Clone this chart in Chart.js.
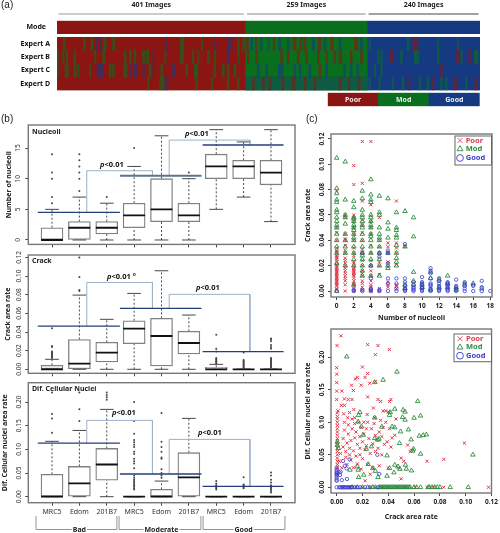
<!DOCTYPE html>
<html>
<head>
<meta charset="utf-8">
<style>
  html, body { margin: 0; padding: 0; background: #fff; }
  canvas { position: absolute; left: 0; top: 0; filter: blur(0.35px); }
</style>
<script src="https://cdn.jsdelivr.net/npm/chart.js@4"></script>
</head>
<body>
<script>
// (a) heat map
var groupCounts = [401, 259, 240];
var groupLabels = ['401 Images', '259 Images', '240 Images'];
var expertRows = ['Expert A', 'Expert B', 'Expert C', 'Expert D'];
var classNames = ['Poor', 'Mod', 'Good'];
// stripes: [first image, last image, class] 0 poor, 1 mod, 2 good, 3 mixed
var stripesA = [[13,17,1],[56,60,1],[72,76,1],[84,87,2],[91,94,2],[99,105,1],[118,123,1],[231,235,2],[262,270,1],[307,310,1],[335,337,2],[364,372,2],[384,388,1],[395,400,1],
  [403,407,0],[412,416,2],[422,425,0],[432,436,2],[448,452,3],[460,463,0],[472,476,2],[490,494,2],[502,509,0],[517,521,0],[525,530,0],[543,548,2],[556,561,0],[568,572,2],[582,587,0],[600,604,2],[633,640,0],[645,650,2],[664,667,1],[745,749,1],[757,768,0],[810,812,1],[852,854,1]];
var stripesB = [[0,3,1],[12,15,1],[20,23,1],[36,40,1],[80,83,1],[97,102,1],[143,147,1],[154,158,1],[164,168,1],[182,187,1],[190,195,1],[204,206,2],[229,232,1],[262,269,1],[288,291,1],[300,302,1],[320,324,1],[335,338,1],[362,366,2],[385,388,1],
  [405,409,0],[423,427,0],[476,480,0],[490,494,0],[511,515,0],[529,533,0],[554,558,0],[572,576,0],[589,593,0],[600,606,0],[624,628,0],[646,650,0],[682,685,1],[689,692,1],[708,715,0],[731,735,1],[760,770,1],[809,813,1],[850,857,0],[859,862,1],[876,880,0],[888,896,1]];
var stripesC = [[0,3,1],[17,24,1],[36,41,1],[44,47,1],[69,72,1],[85,92,2],[92,98,2],[111,115,1],[118,122,1],[142,149,1],[154,157,2],[163,170,2],[183,186,2],[196,200,1],[204,206,2],[221,225,1],[245,250,2],[274,278,1],[292,296,1],[294,300,1],[334,338,1],[352,356,1],[362,366,1],[377,381,1],
  [426,430,2],[444,448,2],[471,481,2],[504,508,2],[515,519,2],[536,540,2],[557,561,0],[572,576,2],[589,593,1],[610,614,2],[624,628,2],[638,642,2],[675,678,1],[689,692,1],[816,820,0]];
var stripesD = [[193,196,1],[218,228,1],[230,236,2],[295,299,1],[328,331,1],[362,366,1],[384,388,1],[401,660,3],[416,420,0],[437,441,0],[451,455,0],[479,483,0],[500,507,0],[526,530,0],[547,551,0],
  [600,604,0],[620,623,0],[640,645,0],[664,667,1],[685,688,1],[713,716,1],[734,738,1],[748,751,0],[770,774,1],[787,791,1],[798,802,0],[816,820,1],[826,830,1],[843,850,0],[869,873,1],[889,894,0]];

// (b) box plots: [low whisker, q1, median, q3, high whisker]
var boxNames = ['MRC5', 'Edom', '201B7', 'MRC5', 'Edom', '201B7', 'MRC5', 'Edom', '201B7'];
var groupNames = ['Bad', 'Moderate', 'Good'];
var nucleoliStats = [[0,0,0,2,5],[0,0,2,3,7],[0,1,2,3,6],[0,2,4,6,12],[0,3,5,10,17],[0,3,4,6,10],[5,10,12,14,18],[7,10,12,13,16],[3,9,11,13,18]];
var nucleoliOutliers = [[6,7,10,11,14],[8,10,11,12,13,14],[7],[15],[],[11],[],[],[]];
var nucleoliMeans = [4.5, 10.5, 15.5];
var nucleoliBrackets = [11.3, 16.3];
var crackStats = [[0,0,0,0.0043,0.0107],[0,0,0.006,0.032,0.0796],[0,0.0079,0.0179,0.0289,0.0536],[0,0.0275,0.0436,0.0521,0.0814],[0,0.0036,0.0357,0.0546,0.1057],[0,0.0164,0.0282,0.0407,0.0582],[0,0,0,0.002,0.0053],[0,0,0,0,0],[0,0,0,0,0]];
var crackOutliers = [[0.012,0.013,0.014,0.015,0.016,0.017,0.018,0.019,0.024,0.025,0.044],[0.084,0.085,0.099,0.12],[],[],[],[],[0.006,0.007,0.008,0.009,0.01,0.011,0.012,0.019,0.022,0.037],[0.001,0.002,0.003,0.004,0.005,0.006,0.007,0.008,0.009,0.01,0.018],[0.002,0.003,0.004,0.005,0.006,0.007,0.008,0.009,0.01,0.011,0.012,0.022,0.024,0.026,0.03,0.032,0.033]];
var crackMeans = [0.0464, 0.0654, 0.0189];
var crackBrackets = [0.0932, 0.0804];
var cellStats = [[0,0,0,0.0472,0.117],[0,0,0.028,0.064,0.14],[0,0.035,0.068,0.102,0.1845],[0,0,0,0,0],[0,0,0,0.0155,0.033],[0,0,0.041,0.093,0.1655],[0,0,0,0,0],[0,0,0,0,0],[0,0,0,0,0]];
var cellOutliers = [[0.135,0.165,0.175,0.22],[0.16,0.185,0.22],[0.205,0.21,0.215,0.22],[0.015,0.018,0.021,0.024,0.027,0.03,0.033,0.036,0.04,0.045,0.06,0.07,0.075,0.08,0.09,0.095,0.105,0.11,0.115,0.12,0.133,0.16,0.2],[0.04,0.045,0.05,0.058,0.08,0.083,0.095,0.105,0.116,0.177],[],[0.015,0.018,0.02,0.022,0.024,0.028,0.033],[0.018,0.02,0.022,0.024,0.026,0.041],[0.009,0.012,0.015,0.018,0.02,0.022,0.024,0.03,0.036,0.045,0.051]];
var cellMeans = [0.1134, 0.0479, 0.0218];
var cellBrackets = [0.1613, 0.1211];
var meanSpans = [[0.48,3.48],[3.48,6.46],[6.5,9.46]];
var bracketSpans = [[2.27,4.67],[5.28,8.23]];
var nucleoliTicks = [0, 5, 10, 15];
var crackTicks = [0, 0.02, 0.04, 0.06, 0.08, 0.1, 0.12];
var cellTicks = [0, 0.05, 0.1, 0.15, 0.2];

// (c) upper scatter: crack area rate listed by number of nucleoli (index = nucleoli)
var poorCrackByNucleoli = [
  [0.001,0.002,0.004,0.005,0.006,0.007,0.008,0.009,0.01,0.011,0.012,0.013,0.014,0.015,0.016,0.017,0.018,0.019,0.02,0.021,0.023,0.025,0.026,0.027,0.028,0.03,0.031,0.032,0.034,0.04,0.046,0.05,0.079],
  [0,0.005,0.008,0.01,0.012,0.014,0.016,0.018,0.02,0.022,0.024,0.026,0.03,0.032,0.036,0.04,0.041,0.045,0.058,0.06],
  [0,0.002,0.004,0.005,0.006,0.008,0.01,0.012,0.013,0.014,0.015,0.016,0.017,0.018,0.02,0.022,0.023,0.028,0.03,0.034,0.04,0.045,0.05,0.055,0.058,0.06,0.084,0.099],
  [0.001,0.003,0.006,0.008,0.012,0.014,0.016,0.02,0.024,0.03,0.033,0.04,0.046,0.052,0.056,0.071,0.085,0.118],
  [0,0.001,0.003,0.005,0.008,0.012,0.016,0.02,0.024,0.03,0.036,0.045,0.05,0.055,0.068,0.118],
  [0,0.002,0.013,0.02,0.023,0.03,0.035,0.04,0.058],
  [0.003,0.005,0.007,0.019,0.023,0.03,0.035,0.038],
  [0.002,0.004,0.005,0.021,0.03,0.034,0.038,0.071],
  [0.035]
];
var modCrackByNucleoli = [
  [0,0.022,0.03,0.035,0.04,0.045,0.05,0.052,0.055,0.058,0.062,0.064,0.07,0.072,0.077,0.081,0.105],
  [0.02,0.03,0.035,0.04,0.045,0.053,0.058,0.06,0.072,0.102],
  [0.005,0.02,0.025,0.03,0.035,0.04,0.042,0.045,0.048,0.05,0.052,0.055,0.057,0.058,0.066,0.071],
  [0.012,0.016,0.02,0.025,0.028,0.03,0.035,0.04,0.045,0.05,0.052,0.055,0.058,0.06,0.064,0.073,0.079],
  [0.012,0.02,0.025,0.03,0.035,0.04,0.043,0.045,0.05,0.052,0.055,0.058,0.06,0.07,0.072,0.076,0.088],
  [0.012,0.02,0.025,0.03,0.035,0.04,0.042,0.045,0.05,0.06,0.062,0.075],
  [0.018,0.02,0.03,0.042,0.049,0.054,0.073],
  [0.02,0.023,0.026,0.03,0.036,0.042,0.044,0.048,0.05,0.062],
  [0.002,0.005,0.035,0.063],
  [0.005,0.008,0.015,0.043,0.058],
  [0.003,0.005],
  [0.001,0.01,0.015],
  [0.003,0.009],
  [0.003,0.006,0.012],
  [0.001,0.003],
  [0.005],
  [0.006],
  [0.002]
];
var goodCrackByNucleoli = [
  [0],[],[0,0.001],[0,0.001,0.03],[0,0.001,0.002,0.01,0.02],[0,0.001,0.027,0.03],[0,0.006,0.01,0.022,0.03,0.032],[0,0.002,0.006,0.01],
  [0,0.001,0.002,0.004,0.007,0.01,0.037],[0,0.001,0.002,0.003,0.005,0.007],[0,0.001,0.002,0.003,0.005,0.006,0.007,0.011],
  [0,0.001,0.002,0.004,0.005,0.006,0.01,0.014,0.016,0.018],[0,0.001,0.002,0.004,0.006,0.008,0.01],[0,0.001,0.002,0.004,0.005,0.006,0.007],
  [0,0.001,0.002,0.004,0.009],[0,0.002,0.004,0.006,0.007],[0,0.004,0.005],[0,0.003,0.008],[0]
];
var nucleoliAxisTicks = [0, 2, 4, 6, 8, 10, 12, 14, 16, 18];

// (c) lower scatter: [crack area rate, dif. cellular nuclei area rate]
var poorCrackCell = [[0.0033,0.233],[0.0003,0.218],[0.024,0.2195],[0.032,0.218],[0.0408,0.212],[0.03,0.204],[0,0.184],[0.02,0.185],[0,0.174],[0.024,0.175],[0.022,0.169],[0.016,0.169],[0.0144,0.1667],[0,0.161],[0.0115,0.157],[0.019,0.157],[0.0256,0.16],[0.03,0.1625],[0,0.148],[0.004,0.148],[0.013,0.149],[0.024,0.139],[0,0.135],[0.009,0.135],[0.012,0.135],[0.006,0.136],[0.032,0.135],[0.034,0.132],[0.041,0.132],[0.042,0.135],[0.0036,0.126],[0.006,0.126],[0.0133,0.1195],[0.0285,0.122],[0.001,0.1175],[0.0005,0.1144],[0.0054,0.113],[0.01,0.115],[0.0236,0.112],[0.036,0.1175],[0.038,0.1175],[0.041,0.115],[0.0005,0.109],[0.0085,0.107],[0.014,0.107],[0.0295,0.107],
  [0.0005,0.02],[0.0005,0.03],[0.0005,0.035],[0.0005,0.04],[0.0005,0.045],[0.0005,0.05],[0.0005,0.055],[0.0005,0.06],[0.0005,0.065],[0.0005,0.07],[0.0005,0.075],[0.0005,0.08],[0.0005,0.085],[0.0005,0.09],[0.0005,0.095],[0.0005,0.1],[0.0005,0.105],
  [0.002,0.04],[0.003,0.052],[0.004,0.03],[0.005,0.062],[0.005,0.075],[0.006,0.088],[0.006,0.1],[0.007,0.046],[0.007,0.055],[0.008,0.035],[0.008,0.068],[0.009,0.082],[0.009,0.096],[0.01,0.05],[0.01,0.06],[0.011,0.042],[0.011,0.072],[0.012,0.09],[0.012,0.105],[0.013,0.03],[0.013,0.056],[0.014,0.076],[0.014,0.098],[0.015,0.048],[0.015,0.085],[0.016,0.036],[0.016,0.066],[0.017,0.1],[0.018,0.05],[0.018,0.06],[0.018,0.078],[0.019,0.028],[0.019,0.092],[0.02,0.044],[0.02,0.07],[0.021,0.082],[0.021,0.1],[0.022,0.058],[0.022,0.01],[0.023,0.09],[0.023,0.064],[0.024,0.035],[0.024,0.1],[0.025,0.075],[0.026,0.052],[0.026,0.02],[0.027,0.09],[0.028,0.067],[0.028,0.03],[0.029,0.098],[0.03,0.08],[0.03,0.055],[0.031,0.074],[0.032,0.06],[0.033,0.033],[0.033,0.085],[0.034,0.103],[0.035,0.05],[0.035,0.078],[0.036,0.092],[0.037,0.066],[0.038,0.1],[0.039,0.07],[0.04,0.116],[0.04,0.03],[0.041,0.09],[0.042,0.062],[0.043,0.076],[0.045,0.08],[0.046,0.105],[0.048,0.03],[0.05,0.013],[0.05,0.045],[0.052,0.04],[0.055,0.065],[0.057,0.055],[0.058,0.057],[0.07,0.04],[0.083,0.043],[0.099,0.068],
  [0.005,0],[0.01,0],[0.015,0],[0.02,0],[0.026,0],[0.03,0],[0.036,0],[0.04,0],[0.047,0],[0.053,0],[0.061,0],[0.07,0],[0.075,0],[0.083,0],[0.1177,0]];
var modCrackCell = [[0.0078,0.201],[0.036,0.165],[0.0467,0.1775],[0.0295,0.1615],[0.0628,0.1323],[0.045,0.1205],[0.0515,0.119],[0.053,0.116],[0.065,0.11],[0.051,0.1077],[0.053,0.1036],[0.06,0.1067],[0.0556,0.0887],[0.043,0.0933],[0.045,0.092],[0.035,0.093],[0.0495,0.0856],[0.064,0.079],[0.067,0.08],[0.0695,0.081],[0.0577,0.0733],[0.0487,0.0677],[0.0595,0.059],[0.059,0.056],[0.065,0.0513],[0.1056,0.05],[0.039,0.0487],[0.018,0.1154],[0.017,0.111],[0.0167,0.101],[0.0192,0.0933],[0.0205,0.0805],[0.023,0.059],[0.027,0.0626],[0.0295,0.0754],[0.032,0.0728],[0.0328,0.0744],[0.0295,0.107],[0.0415,0.1154],[0.041,0.111],[0.0244,0.0354],[0.028,0.0292],[0.03,0.025],[0.032,0.0154],[0.039,0.0174],[0.021,0.019],[0.017,0.0154],[0.0167,0.0267],[0.016,0.0318],[0.041,0.0292],[0.045,0.0344],[0.0475,0.0318],[0.049,0.028],[0.054,0.0282],[0.058,0.0256],[0.0444,0.0226],[0.0533,0.0344],[0.0103,0.0267],[0.0013,0.06],[0.0005,0.07],[0.0005,0.065],
  [0.012,0],[0.016,0],[0.02,0],[0.024,0],[0.028,0],[0.03,0],[0.033,0],[0.034,0],[0.035,0],[0.036,0],[0.037,0],[0.038,0],[0.039,0],[0.04,0],[0.041,0],[0.042,0],[0.043,0],[0.044,0],[0.045,0],[0.046,0],[0.047,0],[0.048,0],[0.049,0],[0.05,0],[0.051,0],[0.052,0],[0.053,0],[0.054,0],[0.055,0],[0.056,0],[0.057,0],[0.06,0],[0.062,0],[0.065,0],[0.071,0],[0.072,0],[0.074,0],[0.076,0],[0.078,0],[0.08,0],[0.088,0],[0.102,0]];
var goodCrackCell = [[0,0.01],[0,0.012],[0,0.015],[0,0.018],[0,0.02],[0,0.022],[0,0.024],[0,0.027],[0,0.03],[0.004,0.011],[0.008,0.0128],[0.002,0.023],[0.005,0.0405],[0.01,0.043],[0.0064,0.033],[0.0077,0.029],[0.003,0.024],[0.0315,0.05],[0.033,0.0205],[0.0026,0.019],
  [0,0],[0.002,0],[0.003,0],[0.004,0],[0.005,0],[0.006,0],[0.007,0],[0.008,0],[0.009,0],[0.01,0],[0.011,0],[0.012,0],[0.014,0],[0.016,0],[0.018,0],[0.022,0],[0.026,0],[0.032,0]];
var crackAxisTicks = [0, 0.02, 0.04, 0.06, 0.08, 0.1, 0.12];
var cellAxisTicks = [0, 0.05, 0.1, 0.15, 0.2];

var heatColors = ['#8a1512', '#0a6e1f', '#163a82', '#0e5a42'];
var scatterColors = ['#e3364a', '#2d8c40', '#3a3ad6'];
var frameColor = '#777';
var boldFont = '"Noto Sans", sans-serif';

Chart.defaults.animation = false;
Chart.defaults.font.family = boldFont;
Chart.defaults.plugins.legend.display = false;
Chart.defaults.plugins.tooltip.enabled = false;

function place(config) {
  var canvas = document.createElement('canvas');
  canvas.width = 500;
  canvas.height = 533;
  document.body.appendChild(canvas);
  config.options.responsive = false;
  return new Chart(canvas.getContext('2d'), config);
}

// pin the plot area: r = {l, t, r, b}, yw/xh = room kept for the axes
function pads(r, yw, xh) {
  return { left: r.l - yw, top: r.t, right: 500 - r.r, bottom: 533 - r.b - xh };
}
function fixW(w) { return function(s) { s.width = w; }; }
function fixH(h) { return function(s) { s.height = h; }; }
function setTicks(list) { return function(s) { s.ticks = list.map(function(v) { return { value: v }; }); }; }

var framePlugin = {
  id: 'frame',
  afterDatasetsDraw: function(chart) {
    var a = chart.chartArea, ctx = chart.ctx;
    ctx.save();
    ctx.strokeStyle = frameColor;
    ctx.lineWidth = 1.4;
    ctx.strokeRect(a.left, a.top, a.right - a.left, a.bottom - a.top);
    ctx.restore();
  }
};

function notesPlugin(notes) {
  return {
    id: 'notes',
    afterDraw: function(chart) {
      var ctx = chart.ctx;
      notes.forEach(function(n) {
        ctx.save();
        ctx.font = n.font || ('bold 7px ' + boldFont);
        ctx.fillStyle = n.color || '#222';
        ctx.textAlign = n.align || 'left';
        ctx.textBaseline = 'middle';
        ctx.fillText(n.text, n.x, n.y);
        ctx.restore();
      });
    }
  };
}

// p<0.01 labels, italic p then bold rest
function pPlugin(items) {
  return {
    id: 'pLabels',
    afterDraw: function(chart) {
      var ctx = chart.ctx;
      items.forEach(function(n) {
        ctx.save();
        ctx.fillStyle = '#111';
        ctx.textBaseline = 'middle';
        ctx.font = 'italic bold 7.5px ' + boldFont;
        ctx.fillText('p', n.x, n.y);
        var w = ctx.measureText('p').width;
        ctx.font = 'bold 7.5px ' + boldFont;
        ctx.fillText(n.text, n.x + w, n.y);
        ctx.restore();
      });
    }
  };
}

// ---------- (a) ----------
function rangesToBars(ranges, row) {
  return ranges.map(function(s) { return { x: [s[0], s[1]], y: row }; });
}

function modeRuns(row) {
  var out = [], start = 0;
  groupCounts.forEach(function(c, i) {
    out.push({ i: i, bar: { x: [start, start + c], y: row } });
    start += c;
  });
  return out;
}

function heatDatasets(rows) {
  var sets = [];
  var base = [[], [], []];
  rows.forEach(function(row) {
    modeRuns(row).forEach(function(m) { base[m.i].push(m.bar); });
  });
  base.forEach(function(data, i) {
    sets.push({ data: data, backgroundColor: heatColors[i], order: 10, grouped: false, barPercentage: 1, categoryPercentage: 1 });
  });
  return sets;
}

function heatScales(labels, padding) {
  return {
    x: { type: 'linear', min: 0, max: 900, display: false },
    y: {
      type: 'category', labels: labels, afterFit: fixW(50),
      grid: { display: false, drawTicks: false }, border: { display: false },
      ticks: { padding: padding, color: '#111', font: { size: 7, weight: 'bold' } }
    }
  };
}

var headerPlugin = {
  id: 'header',
  afterDraw: function(chart) {
    var ctx = chart.ctx, x = chart.scales.x, start = 0;
    var lineColors = ['#999', '#888', '#444'];
    groupCounts.forEach(function(c, i) {
      var x1 = x.getPixelForValue(start) + 1.5, x2 = x.getPixelForValue(start + c) - 1.5;
      ctx.save();
      ctx.strokeStyle = lineColors[i];
      ctx.lineWidth = 1;
      ctx.beginPath();
      ctx.moveTo(x1, 14);
      ctx.lineTo(x2, 14);
      ctx.stroke();
      ctx.font = 'bold 7px ' + boldFont;
      ctx.fillStyle = '#222';
      ctx.textAlign = 'center';
      ctx.textBaseline = 'middle';
      ctx.fillText(groupLabels[i], (x1 + x2) / 2, 5);
      ctx.restore();
      start += c;
    });
  }
};

var modeRect = { l: 57, t: 20.7, r: 480, b: 34 };
place({
  type: 'bar',
  data: { datasets: heatDatasets(['Mode']) },
  options: {
    indexAxis: 'y',
    layout: { padding: pads(modeRect, 50, 0) },
    scales: heatScales(['Mode'], 11)
  },
  plugins: [headerPlugin, notesPlugin([
    { text: '(a)', x: 1, y: 5, font: '10px "Liberation Sans"' },
    { text: '(b)', x: 1, y: 119, font: '10px "Liberation Sans"' },
    { text: '(c)', x: 306, y: 119, font: '10px "Liberation Sans"' }
  ])]
});

var expertRect = { l: 57, t: 37, r: 480, b: 90.5 };
var expertSets = heatDatasets(expertRows);
[stripesA, stripesB, stripesC, stripesD].forEach(function(stripes, r) {
  [3, 1, 2, 0].forEach(function(cls, k) {
    var picked = stripes.filter(function(s) { return s[2] === cls; });
    expertSets.push({
      data: rangesToBars(picked, expertRows[r]),
      backgroundColor: heatColors[cls] + (cls === 3 ? '' : '99'),
      order: cls === 3 ? 9 : 8 - k, grouped: false, barPercentage: 1, categoryPercentage: 1
    });
  });
});
place({
  type: 'bar',
  data: { datasets: expertSets },
  options: {
    indexAxis: 'y',
    layout: { padding: pads(expertRect, 50, 0) },
    scales: heatScales(expertRows, 7)
  }
});

// legend strip, the names sit inside the bars
var stripLabels = {
  id: 'stripLabels',
  afterDraw: function(chart) {
    var ctx = chart.ctx, x = chart.scales.x, a = chart.chartArea;
    ctx.save();
    ctx.font = 'bold 7px ' + boldFont;
    ctx.fillStyle = '#eee';
    ctx.textAlign = 'center';
    ctx.textBaseline = 'middle';
    classNames.forEach(function(name, i) {
      ctx.fillText(name, x.getPixelForTick(i), (a.top + a.bottom) / 2);
    });
    ctx.restore();
  }
};
var stripRect = { l: 327.7, t: 92.7, r: 479.7, b: 106.3 };
place({
  type: 'bar',
  data: {
    labels: classNames,
    datasets: [{ data: [1, 1, 1], backgroundColor: heatColors.slice(0, 3), barPercentage: 1, categoryPercentage: 1 }]
  },
  options: {
    layout: { padding: pads(stripRect, 0, 0) },
    scales: {
      y: { min: 0, max: 1, display: false },
      x: { display: false }
    }
  },
  plugins: [stripLabels]
});

// ---------- (b) ----------
function boxDatasets(stats, outliers, means, brackets) {
  var boxes = [], whiskers = [], caps = [], medians = [], points = [];
  stats.forEach(function(s, i) {
    var x = i + 1;
    boxes.push({ x: x, y: [s[1], s[3]] });
    whiskers.push({ x: x, y: s[0] }, { x: x, y: s[1] }, { x: x, y: null });
    whiskers.push({ x: x, y: s[3] }, { x: x, y: s[4] }, { x: x, y: null });
    caps.push({ x: x - 0.25, y: s[0] }, { x: x + 0.25, y: s[0] }, { x: x, y: null });
    caps.push({ x: x - 0.25, y: s[4] }, { x: x + 0.25, y: s[4] }, { x: x, y: null });
    medians.push({ x: x - 0.4, y: s[2] }, { x: x + 0.4, y: s[2] }, { x: x, y: null });
    outliers[i].forEach(function(v) { points.push({ x: x, y: v }); });
  });
  var line = function(data, color, width, order, dash) {
    return { type: 'line', data: data, borderColor: color, borderWidth: width, borderDash: dash || [], pointRadius: 0, fill: false, tension: 0, order: order };
  };
  var sets = [
    { type: 'bar', data: boxes, backgroundColor: '#fff', borderColor: '#808080', borderWidth: 1.3, borderSkipped: false, barThickness: 22, grouped: false, order: 6 },
    line(whiskers, '#333', 0.9, 7, [2, 2]),
    line(caps, '#333', 0.9, 5),
    line(medians, '#111', 1.8, 4),
    { type: 'scatter', data: points, pointRadius: 1, pointBackgroundColor: '#444', pointBorderWidth: 0, order: 3 }
  ];
  // group mean lines and p value brackets
  means.forEach(function(m, i) {
    var thick = i === 1 && stats === nucleoliStats;
    sets.push(line([{ x: meanSpans[i][0], y: m }, { x: meanSpans[i][1], y: m }], thick ? '#5a7391' : '#23407a', thick ? 2 : 1.3, 1));
  });
  brackets.forEach(function(top, i) {
    var sp = bracketSpans[i];
    sets.push(line([{ x: sp[0], y: means[i] }, { x: sp[0], y: top }, { x: sp[1], y: top }, { x: sp[1], y: means[i + 1] }], '#9db0c8', 1, 2));
  });
  return sets;
}

function boxScales(yMin, yMax, yTicks, yTitle, titleW, tickPad, digits, showNames) {
  return {
    x: {
      type: 'linear', min: 0.134, max: 9.877, offset: false,
      afterBuildTicks: setTicks([1, 2, 3, 4, 5, 6, 7, 8, 9]), afterFit: fixH(30),
      grid: { offset: false, drawOnChartArea: false, tickLength: 3, color: '#444' }, border: { display: false },
      ticks: {
        padding: 2, autoSkip: false, maxRotation: 0, color: '#333', font: { size: 7 },
        callback: function(v) { return showNames ? boxNames[v - 1] : ''; }
      }
    },
    y: {
      type: 'linear', min: yMin, max: yMax,
      afterBuildTicks: setTicks(yTicks), afterFit: fixW(titleW),
      grid: { drawOnChartArea: false, tickLength: 3, color: '#444' }, border: { display: false },
      title: { display: true, text: yTitle, color: '#222', padding: 0, font: { size: 7, weight: 'bold', lineHeight: 1.2 } },
      ticks: {
        minRotation: 90, maxRotation: 90, crossAlign: 'center', padding: tickPad, color: '#333', font: { size: 6.5 },
        callback: function(v) { return digits ? v.toFixed(digits) : String(v); }
      }
    }
  };
}

var nucleoliRect = { l: 28.3, t: 125, r: 295, b: 244.4 };
place({
  type: 'bar',
  data: { datasets: boxDatasets(nucleoliStats, nucleoliOutliers, nucleoliMeans, nucleoliBrackets) },
  options: {
    layout: { padding: pads(nucleoliRect, 23.5, 30) },
    scales: boxScales(-0.72, 18.76, nucleoliTicks, 'Number of nucleoli', 23.5, 3, 0, false)
  },
  plugins: [framePlugin, notesPlugin([{ text: 'Nucleoli', x: 32, y: 132 }]),
    pPlugin([{ text: '<0.01', x: 100, y: 164.5 }, { text: '<0.01', x: 185, y: 133.5 }])]
});

var crackRect = { l: 28.3, t: 255, r: 295, b: 373.3 };
place({
  type: 'bar',
  data: { datasets: boxDatasets(crackStats, crackOutliers, crackMeans, crackBrackets) },
  options: {
    layout: { padding: pads(crackRect, 25, 30) },
    scales: boxScales(-0.0043, 0.1226, crackTicks, 'Crack area rate', 25, -0.5, 2, false)
  },
  plugins: [framePlugin, notesPlugin([{ text: 'Crack', x: 32, y: 260.5 }]),
    pPlugin([{ text: '<0.01 \u00b0', x: 107, y: 276.5 }, { text: '<0.01', x: 196, y: 288 }])]
});

var cellRect = { l: 28.3, t: 382.7, r: 295, b: 502.7 };
var groupBracketPlugin = {
  id: 'groupBrackets',
  afterDraw: function(chart) {
    var ctx = chart.ctx, x = chart.scales.x;
    var spans = [[0.416, 3.37], [3.45, 6.44], [6.52, 9.51]];
    var centers = [2, 5, 8];
    spans.forEach(function(sp, i) {
      var x1 = x.getPixelForValue(sp[0]), x2 = x.getPixelForValue(sp[1]), cx = x.getPixelForValue(centers[i]);
      ctx.save();
      ctx.strokeStyle = '#888';
      ctx.lineWidth = 0.9;
      ctx.beginPath();
      ctx.moveTo(x1, 516);
      ctx.lineTo(x1, 529.5);
      ctx.lineTo(x2, 529.5);
      ctx.lineTo(x2, 516);
      ctx.stroke();
      ctx.font = 'bold 7px ' + boldFont;
      var w = ctx.measureText(groupNames[i]).width;
      ctx.fillStyle = '#fff';
      ctx.fillRect(cx - w / 2 - 1, 525, w + 2, 8);
      ctx.fillStyle = '#222';
      ctx.textAlign = 'center';
      ctx.textBaseline = 'middle';
      ctx.fillText(groupNames[i], cx, 529.5);
      ctx.restore();
    });
  }
};
place({
  type: 'bar',
  data: { datasets: boxDatasets(cellStats, cellOutliers, cellMeans, cellBrackets) },
  options: {
    layout: { padding: pads(cellRect, 28, 30) },
    scales: boxScales(-0.0127, 0.2409, cellTicks, 'Dif. Cellular nuclei area rate', 28, -0.5, 2, true)
  },
  plugins: [framePlugin, groupBracketPlugin, notesPlugin([{ text: 'Dif. Cellular Nuclei', x: 32, y: 388.5 }]),
    pPlugin([{ text: '<0.01', x: 112, y: 413 }, { text: '<0.01', x: 198, y: 433 }])]
});

// ---------- (c) ----------
function byIndex(lists) {
  var out = [];
  lists.forEach(function(ys, x) {
    ys.forEach(function(y) { out.push({ x: x, y: y }); });
  });
  return out;
}
function pairs(list) {
  return list.map(function(p) { return { x: p[0], y: p[1] }; });
}

function scatterSets(poor, mod, good) {
  var styles = ['crossRot', 'triangle', 'circle'];
  var radii = [2.2, 2.6, 1.7];
  var widths = [1, 0.9, 0.8];
  return [poor, mod, good].map(function(data, i) {
    return {
      label: classNames[i], data: data, pointStyle: styles[i], pointRadius: radii[i],
      pointBorderColor: scatterColors[i], pointBackgroundColor: 'transparent', pointBorderWidth: widths[i],
      order: 3 - i, clip: false
    };
  });
}

function scatterLegend(box, rows, markerX, textX) {
  return {
    id: 'scatterLegend',
    afterDraw: function(chart) {
      var ctx = chart.ctx;
      ctx.save();
      ctx.fillStyle = '#fff';
      ctx.fillRect(box.l, box.t, box.r - box.l, box.b - box.t);
      ctx.strokeStyle = '#666';
      ctx.lineWidth = 1;
      ctx.strokeRect(box.l, box.t, box.r - box.l, box.b - box.t);
      chart.data.datasets.forEach(function(ds, i) {
        ctx.strokeStyle = scatterColors[i];
        ctx.fillStyle = 'transparent';
        ctx.lineWidth = 0.9;
        Chart.helpers.drawPoint(ctx, { pointStyle: ds.pointStyle, radius: 3.4, rotation: 0, borderWidth: 0.9 }, markerX, rows[i]);
        ctx.font = 'bold 7.5px ' + boldFont;
        ctx.fillStyle = scatterColors[i];
        ctx.textBaseline = 'middle';
        ctx.fillText(ds.label, textX, rows[i]);
      });
      ctx.restore();
    }
  };
}

function scatterScales(xMin, xMax, xTicks, xTitle, xDigits, yMin, yMax, yTicks, yTitle, xh) {
  return {
    x: {
      type: 'linear', min: xMin, max: xMax,
      afterBuildTicks: setTicks(xTicks), afterFit: fixH(xh),
      grid: { drawOnChartArea: false, tickLength: 3, color: '#444' }, border: { display: false },
      title: { display: true, text: xTitle, color: '#222', padding: 0, font: { size: 7, weight: 'bold', lineHeight: 1.2 } },
      ticks: {
        padding: 2, autoSkip: false, maxRotation: 0, color: '#222', font: { size: 6.5, weight: 'bold' },
        callback: function(v) { return xDigits ? v.toFixed(xDigits) : String(v); }
      }
    },
    y: {
      type: 'linear', min: yMin, max: yMax,
      afterBuildTicks: setTicks(yTicks), afterFit: fixW(27),
      grid: { drawOnChartArea: false, tickLength: 3, color: '#444' }, border: { display: false },
      title: { display: true, text: yTitle, color: '#222', padding: 0, font: { size: 7, weight: 'bold', lineHeight: 1.2 } },
      ticks: {
        minRotation: 90, maxRotation: 90, crossAlign: 'center', padding: -1, color: '#222', font: { size: 6.5, weight: 'bold' },
        callback: function(v) { return v.toFixed(2); }
      }
    }
  };
}

var upperRect = { l: 331, t: 134, r: 492, b: 297 };
place({
  type: 'scatter',
  data: { datasets: scatterSets(byIndex(poorCrackByNucleoli), byIndex(modCrackByNucleoli), byIndex(goodCrackByNucleoli)) },
  options: {
    layout: { padding: pads(upperRect, 27, 25) },
    scales: scatterScales(-0.67, 18.2, nucleoliAxisTicks, 'Number of nucleoli', 0, -0.0047, 0.1239, crackTicks, 'Crack area rate', 25)
  },
  plugins: [framePlugin, scatterLegend({ l: 455, t: 136, r: 491.5, b: 165 }, [140.5, 149, 158], 460, 465.7)]
});

var lowerRect = { l: 331, t: 329, r: 493, b: 493 };
place({
  type: 'scatter',
  data: { datasets: scatterSets(pairs(poorCrackCell), pairs(modCrackCell), pairs(goodCrackCell)) },
  options: {
    layout: { padding: pads(lowerRect, 27, 28) },
    scales: scatterScales(-0.0044, 0.12, crackAxisTicks, 'Crack area rate', 2, -0.0088, 0.2435, cellAxisTicks, 'Dif. Cellular nuclei area rate', 28)
  },
  plugins: [framePlugin, scatterLegend({ l: 454, t: 334, r: 491.5, b: 361.7 }, [338.7, 347.3, 355.7], 460, 466)]
});
</script>
</body>
</html>
